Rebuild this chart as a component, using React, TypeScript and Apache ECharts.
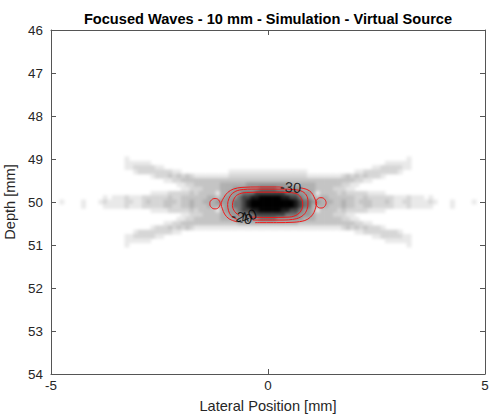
import React, { useEffect, useRef } from "react";
import * as echarts from "echarts";

const FONT = "'Liberation Sans', Arial, Helvetica, sans-serif";
const TITLE = "Focused Waves - 10 mm - Simulation - Virtual Source";
const X_NAME = "Lateral Position [mm]";
const Y_NAME = "Depth [mm]";
const X_MIN = -5, X_MAX = 5, X_INTERVAL = 5;
const Y_MIN = 46, Y_MAX = 54, Y_INTERVAL = 1;

// Image grid: lateral cell centres start at -4.95 mm (0.1 mm step), depth rows start at 49.0 mm (0.1 mm step)
const LAT0 = -4.95, LAT_STEP = 0.1;
const DEP0 = 49.0, DEP_STEP = 0.1;

// Darkness level (0 = white ... 9 = black), one string per depth row
const psfRows = [
  "0000000000 0000000100 0000000000 0000000000 0000000000 | 0000000000 0000000000 0000000000 0010000000 0000000000",
  "0000000000 0000000111 1110000000 0000000000 0000000000 | 0000000000 0000000000 0000000111 1110000000 0000000000",
  "0000000000 0000000112 2222110000 0000000000 0000000000 | 0000000000 0000000000 0000112222 2110000000 0000000000",
  "0000000000 0000000001 2222222211 0000000000 0111111111 | 1111111110 0000000000 1122222222 1000000000 0000000000",
  "0000000000 0000000000 0001222323 2321111111 1222222222 | 2222222221 1111111232 3232221000 0000000000 0000000000",
  "0000000000 0000000000 0000001122 3333333333 3333333333 | 3333333333 3333333333 2211000000 0000000000 0000000000",
  "0000000000 0000000000 0000000001 1223333334 4444455555 | 5555544444 4333333221 1000000000 0000000000 0000000000",
  "0000000000 0000000000 0000000000 1122233334 4455555566 | 6655555544 4333322211 0000000000 0000000000 0000000000",
  "0000000000 0000000000 0001111222 2232333314 4555666777 | 7777666555 4133332322 2221111000 0000000000 0000000000",
  "0000000000 0010111211 1222222322 3333334434 5556778899 | 9998877655 4344333333 2232222221 1121110100 0000000000",
  "0010000100 0121111221 1232223332 3343344455 5566789999 | 9999998766 5544433433 2333222321 1221111210 0010000100",
  "0000000100 0011111211 1222223322 3343334444 5566789999 | 9999998766 4444333433 2233222221 1121111100 0010000000",
  "0000000000 0000000000 0001111222 2232333314 5556778899 | 9998877655 4133332322 2221111000 0000000000 0000000000",
  "0000000000 0000000000 0000000000 1122233334 4555666777 | 7777666555 4333322211 0000000000 0000000000 0000000000",
  "0000000000 0000000000 0000000001 1223333334 4455555566 | 6655555544 4333333221 1000000000 0000000000 0000000000",
  "0000000000 0000000000 0000001122 3333333333 3334444444 | 4444444333 3333333333 2211000000 0000000000 0000000000",
  "0000000000 0000000000 0001222323 2321111111 1111111111 | 1111111111 1111111232 3232221000 0000000000 0000000000",
  "0000000000 0000000001 2222222211 0000000000 0000000000 | 0000000000 0000000000 1122222222 1000000000 0000000000",
  "0000000000 0000000112 2222110000 0000000000 0000000000 | 0000000000 0000000000 0000112222 2110000000 0000000000",
  "0000000000 0000000111 1110000000 0000000000 0000000000 | 0000000000 0000000000 0000000111 1110000000 0000000000",
  "0000000000 0000000100 0000000000 0000000000 0000000000 | 0000000000 0000000000 0000000000 0010000000 0000000000",
];

const grayStops = [
  "#ffffff", "#e9e9e9", "#d6d6d6", "#c4c4c4", "#b0b0b0",
  "#989898", "#727272", "#444444", "#1a1a1a", "#000000",
];

// Contour lines (lateral mm, depth mm)
const contourOuterA = [
  [0.74, 49.67], [0.9, 49.71], [1.0, 49.78], [1.06, 49.88], [1.1, 49.97], [1.12, 50.03],
  [1.1, 50.12], [1.06, 50.24], [0.98, 50.35], [0.85, 50.43], [0.6, 50.47], [0.2, 50.48], [-0.3, 50.48],
];
const contourOuterB = [
  [-0.72, 50.46], [-0.9, 50.39], [-1.0, 50.28], [-1.05, 50.16], [-1.08, 50.05], [-1.02, 49.9],
  [-0.93, 49.78], [-0.8, 49.7], [-0.6, 49.66], [-0.2, 49.65], [0.2, 49.65], [0.34, 49.655],
];
const contourMiddle = [
  [-0.72, 50.4], [-0.85, 50.32], [-0.91, 50.2], [-0.93, 50.06], [-0.9, 49.92], [-0.82, 49.8],
  [-0.65, 49.72], [-0.3, 49.7], [0.3, 49.7], [0.6, 49.71], [0.8, 49.76], [0.9, 49.87], [0.92, 50.02],
  [0.9, 50.17], [0.82, 50.3], [0.65, 50.39], [0.3, 50.42], [-0.35, 50.42],
];
const contourInner = [
  [-0.66, 50.32], [-0.77, 50.22], [-0.82, 50.08], [-0.79, 49.94], [-0.7, 49.83], [-0.5, 49.78],
  [0.0, 49.77], [0.5, 49.78], [0.68, 49.82], [0.77, 49.92], [0.8, 50.05], [0.77, 50.19],
  [0.68, 50.29], [0.5, 50.35], [0.0, 50.36], [-0.42, 50.35],
];
const lobeLeft = [
  [-1.1, 50.04], [-1.135, 49.955], [-1.22, 49.92], [-1.305, 49.955], [-1.34, 50.04],
  [-1.305, 50.125], [-1.22, 50.16], [-1.135, 50.125], [-1.1, 50.04],
];
const lobeRight = [
  [1.34, 50.02], [1.305, 49.935], [1.22, 49.9], [1.135, 49.935], [1.1, 50.02],
  [1.135, 50.105], [1.22, 50.14], [1.305, 50.105], [1.34, 50.02],
];
const contourLabels = [
  { pos: [0.52, 49.66], text: "-30", rotate: -4 },
  { pos: [-0.6, 50.36], text: "-20", rotate: -12 },
  { pos: [-0.5, 50.35], text: "-40", rotate: 22 },
];

const GRID = { left: 51, right: 5, top: 30, bottom: 44, containLabel: false, outerBoundsMode: "none" };

function buildCells() {
  const cells: number[][] = [];
  psfRows.forEach((row, r) => {
    const digits = row.replace(/[^0-9]/g, "");
    for (let c = 0; c < digits.length; c++) {
      const v = Number(digits[c]);
      if (v > 0) cells.push([LAT0 + LAT_STEP * c, DEP0 + DEP_STEP * r, v]);
    }
  });
  return cells;
}

export default function App() {
  const imgRef = useRef<HTMLDivElement>(null);
  const axRef = useRef<HTMLDivElement>(null);
  useEffect(() => {
    if (!imgRef.current || !axRef.current) return;
    // Layer 1: the intensity image (softened by a CSS blur like the interpolated original)
    const img = echarts.init(imgRef.current, undefined, { renderer: "svg" });
    img.setOption({
      animation: false,
      backgroundColor: "#ffffff",
      grid: GRID,
      xAxis: { type: "value", min: X_MIN, max: X_MAX, interval: X_INTERVAL, show: false },
      yAxis: { type: "value", min: Y_MIN, max: Y_MAX, interval: Y_INTERVAL, inverse: true, show: false },
      visualMap: {
        type: "continuous",
        show: false,
        min: 0,
        max: 9,
        dimension: 2,
        seriesIndex: 0,
        inRange: { color: grayStops },
      },
      series: [
        {
          type: "custom",
          silent: true,
          data: buildCells(),
          renderItem: (params: any, api: any) => {
            const x = api.value(0);
            const y = api.value(1);
            const p0 = api.coord([x - LAT_STEP / 2, y - DEP_STEP / 2]);
            const p1 = api.coord([x + LAT_STEP / 2, y + DEP_STEP / 2]);
            return {
              type: "rect",
              shape: {
                x: Math.min(p0[0], p1[0]) - 0.3,
                y: Math.min(p0[1], p1[1]) - 0.3,
                width: Math.abs(p1[0] - p0[0]) + 0.6,
                height: Math.abs(p1[1] - p0[1]) + 0.6,
              },
              style: { fill: api.visual("color"), stroke: null },
            };
          },
        },
      ],
    });

    // Layer 2: axes, contours, labels, title
    const chart = echarts.init(axRef.current, undefined, { renderer: "svg" });
    const axisColor = "#555555";
    const textColor = "#262626";
    const lineCommon = {
      type: "line",
      showSymbol: false,
      symbol: "none",
      smooth: 0.35,
      silent: true,
      lineStyle: { color: "#f01818", width: 1 },
      z: 5,
    };
    const xBase = {
      type: "value",
      min: X_MIN,
      max: X_MAX,
      interval: X_INTERVAL,
      splitLine: { show: false },
      axisLine: { show: true, onZero: false, lineStyle: { color: axisColor, width: 1 } },
      axisTick: { show: true, inside: true, length: 5, lineStyle: { color: axisColor } },
    };
    const yBase = {
      type: "value",
      min: Y_MIN,
      max: Y_MAX,
      interval: Y_INTERVAL,
      inverse: true,
      splitLine: { show: false },
      axisLine: { show: true, onZero: false, lineStyle: { color: axisColor, width: 1 } },
      axisTick: { show: true, inside: true, length: 5, lineStyle: { color: axisColor } },
    };
    chart.setOption({
      animation: false,
      backgroundColor: "transparent",
      grid: GRID,
      graphic: [
        {
          type: "text",
          x: 268,
          y: 19,
          style: {
            text: TITLE,
            fontSize: 14.6,
            fontWeight: "bold",
            fontFamily: FONT,
            fill: "#000000",
            textAlign: "center",
            textVerticalAlign: "middle",
          },
        },
      ],
      xAxis: [
        {
          ...xBase,
          position: "bottom",
          axisLabel: { color: textColor, fontSize: 13.4, fontFamily: FONT, margin: 5 },
          name: X_NAME,
          nameLocation: "middle",
          nameGap: 24,
          nameTextStyle: { color: textColor, fontSize: 14.6, fontFamily: FONT },
        },
        { ...xBase, position: "top", axisLabel: { show: false } },
      ],
      yAxis: [
        {
          ...yBase,
          position: "left",
          axisLabel: { color: textColor, fontSize: 13.4, fontFamily: FONT, margin: 8 },
          name: Y_NAME,
          nameLocation: "middle",
          nameGap: 32,
          nameTextStyle: { color: textColor, fontSize: 14.6, fontFamily: FONT },
        },
        { ...yBase, position: "right", axisLabel: { show: false } },
      ],
      series: [
        { ...lineCommon, data: contourOuterA },
        { ...lineCommon, data: contourOuterB },
        { ...lineCommon, data: contourMiddle },
        { ...lineCommon, data: contourInner },
        { ...lineCommon, data: lobeLeft, smooth: 0.5 },
        { ...lineCommon, data: lobeRight, smooth: 0.5 },
        {
          type: "scatter",
          symbol: "circle",
          symbolSize: 1,
          silent: true,
          itemStyle: { color: "rgba(0,0,0,0)" },
          z: 6,
          data: contourLabels.map((l) => ({
            value: l.pos,
            label: {
              show: true,
              position: "inside",
              formatter: l.text,
              rotate: l.rotate,
              fontSize: 14.6,
              fontFamily: FONT,
              color: "#000000",
            },
          })),
        },
      ],
    });
    return () => {
      img.dispose();
      chart.dispose();
    };
  }, []);
  return (
    <div style={{ position: "fixed", left: 0, top: 0, width: 490, height: 418, background: "#fff" }}>
      <div
        ref={imgRef}
        style={{ position: "absolute", left: 0, top: 0, width: 490, height: 418, filter: "blur(1.6px)" }}
      />
      <div ref={axRef} style={{ position: "absolute", left: 0, top: 0, width: 490, height: 418 }} />
    </div>
  );
}
